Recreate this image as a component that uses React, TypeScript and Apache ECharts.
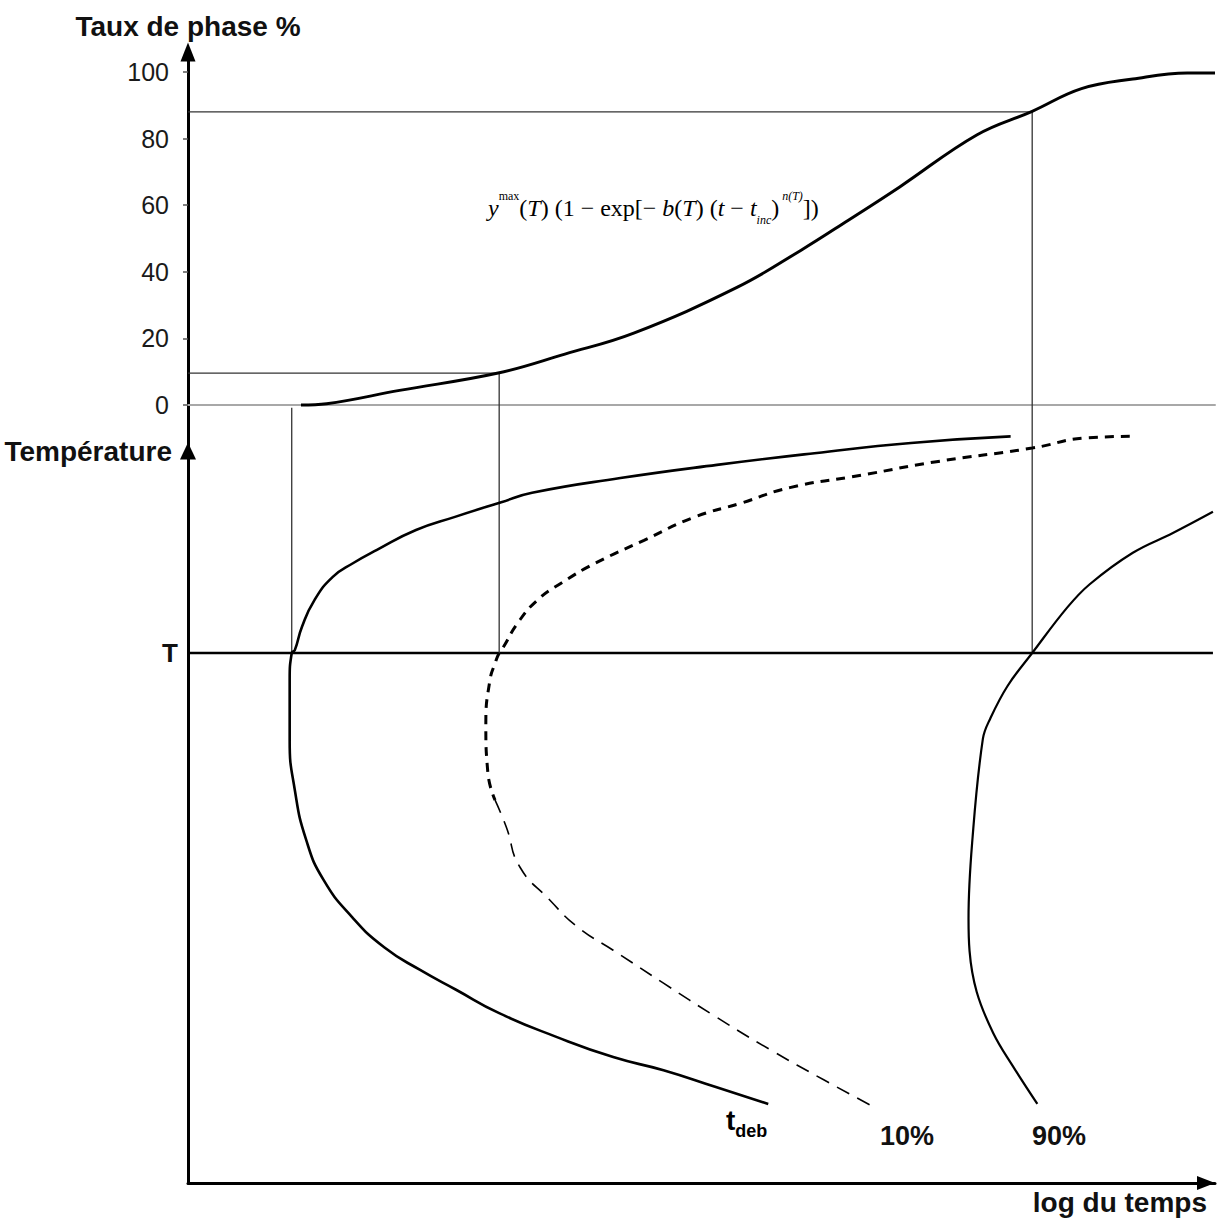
import React, { useEffect, useRef } from "react";
import * as echarts from "echarts";

// ---- axis ticks ----
const percentTicks = [0, 20, 40, 60, 80, 100];
const tempLevel = 72.4; // level "T" on the temperature axis
const tempTickLabel = "T";

// ---- top panel: transformed phase fraction (%) vs log time ----
const phaseX = [11.0, 13.5, 20.6, 30.2, 36.7, 43.4, 53.5, 59.7, 64.3, 69.3, 76.8, 82.2, 87.0, 92.0, 97.3, 100];
const phaseY = [0, 0.4, 4.4, 9.6, 15.3, 21.6, 35.4, 46.5, 55.5, 65.5, 81.1, 88.2, 95.0, 97.9, 99.7, 99.7];

// reading levels (10 % and 90 %) and the times where they are reached
const levelY = [9.6, 88];
const levelX = [30.3, 82.2];
// vertical guides: start time, 10 % time, 90 % time; and where they start (temperature-axis units)
const guideX = [10.1, 30.3, 82.2];
const guideTopTemp = [105.9, 110.7, 146.3];

// ---- bottom panel: TTT curves (log time, temperature) ----
const debX = [80.1, 70.4, 61.0, 51.5, 42.1, 33.5, 30.5, 26.0, 22.2, 18.4, 16.1, 14.1, 12.3, 11.1, 10.4, 10.1, 9.9, 9.9, 10.4, 11.5, 13.2, 16.0, 19.1, 22.6, 26.1, 30.3, 35.8, 41.4, 46.3, 51.4, 56.5];
const debY = [102.0, 101.1, 99.7, 98.1, 96.3, 94.3, 93.0, 91.0, 89.2, 86.5, 84.7, 82.8, 79.6, 76.0, 72.8, 72.4, 68.7, 60.5, 53.7, 46.9, 41.4, 36.3, 32.2, 29.1, 26.4, 23.2, 20.0, 17.2, 15.4, 13.1, 10.8];

const p10UpperX = [91.7, 87.5, 82.2, 72.7, 65.6, 58.6, 53.9, 49.2, 44.4, 39.7, 36.4, 34.0, 32.1, 30.7, 30.3, 29.9, 29.4, 29.0, 29.2, 29.9];
const p10UpperY = [102.0, 101.8, 100.4, 98.5, 96.7, 95.0, 92.9, 90.9, 87.8, 84.7, 82.0, 79.6, 76.5, 73.2, 72.4, 71.0, 68.7, 62.8, 56.0, 52.3];
const p10LowerX = [29.9, 31.0, 32.3, 35.2, 37.9, 41.4, 46.3, 51.4, 56.7, 61.9, 66.9];
const p10LowerY = [52.3, 48.6, 43.2, 38.7, 35.0, 31.8, 27.3, 22.7, 18.2, 14.1, 10.3];

const p90X = [99.8, 95.9, 92.0, 87.8, 85.6, 82.2, 79.8, 78.1, 77.4, 76.4, 76.0, 76.1, 76.8, 78.4, 80.3, 82.7];
const p90Y = [91.7, 88.8, 86.1, 81.8, 78.6, 72.4, 67.9, 63.4, 60.7, 47.3, 36.1, 31.7, 26.1, 20.5, 16.0, 10.8];

const zip = (xs: number[], ys: number[]) => xs.map((x, i) => [x, ys[i]]);

const SANS = "'Liberation Sans', Arial, sans-serif";
const SERIF = "'Liberation Serif', 'Times New Roman', serif";

export default function App() {
  const ref = useRef<HTMLDivElement>(null);

  useEffect(() => {
    if (!ref.current) return;
    const chart = echarts.init(ref.current, undefined, { renderer: "svg" });

    const guideStyle = { color: "#333", width: 1.3, type: "solid" as const };
    const lineBase = {
      type: "line" as const,
      showSymbol: false,
      symbol: "none",
      silent: true,
      clip: false,
    };

    const series: any[] = [
      {
        ...lineBase,
        name: "taux",
        xAxisIndex: 0,
        yAxisIndex: 0,
        smooth: 0.4,
        data: zip(phaseX, phaseY),
        lineStyle: { color: "#000", width: 3 },
        z: 5,
      },
      ...levelY.map((ly, i) => ({
        ...lineBase,
        xAxisIndex: 0,
        yAxisIndex: 0,
        data: [
          [0, ly],
          [levelX[i], ly],
        ],
        lineStyle: guideStyle,
      })),
      {
        ...lineBase,
        xAxisIndex: 1,
        yAxisIndex: 1,
        data: [
          [0, tempLevel],
          [99.8, tempLevel],
        ],
        lineStyle: { color: "#000", width: 2.5 },
      },
      ...guideX.map((gx, i) => ({
        ...lineBase,
        xAxisIndex: 1,
        yAxisIndex: 1,
        data: [
          [gx, guideTopTemp[i]],
          [gx, tempLevel],
        ],
        lineStyle: guideStyle,
      })),
      {
        ...lineBase,
        name: "tdeb",
        xAxisIndex: 1,
        yAxisIndex: 1,
        smooth: 0.5,
        data: zip(debX, debY),
        lineStyle: { color: "#000", width: 2.6 },
        z: 5,
      },
      {
        ...lineBase,
        name: "10% haut",
        xAxisIndex: 1,
        yAxisIndex: 1,
        smooth: 0.5,
        data: zip(p10UpperX, p10UpperY),
        lineStyle: { color: "#000", width: 3, type: [9, 7] },
        z: 5,
      },
      {
        ...lineBase,
        name: "10% bas",
        xAxisIndex: 1,
        yAxisIndex: 1,
        smooth: 0.5,
        data: zip(p10LowerX, p10LowerY),
        lineStyle: { color: "#000", width: 1.6, type: [14, 9] },
        z: 5,
      },
      {
        ...lineBase,
        name: "90%",
        xAxisIndex: 1,
        yAxisIndex: 1,
        smooth: 0.4,
        data: zip(p90X, p90Y),
        lineStyle: { color: "#000", width: 2.2 },
        z: 5,
      },
    ];

    chart.setOption({
      animation: false,
      backgroundColor: "#fff",
      grid: [
        { left: 188, top: 52, width: 1027, height: 399 },
        { left: 188, top: 451, width: 1027, height: 732 },
      ],
      xAxis: [
        {
          type: "value",
          gridIndex: 0,
          min: 0,
          max: 100,
          axisLine: { onZero: true, lineStyle: { color: "#a8a8a8", width: 2 } },
          axisTick: { show: false },
          axisLabel: { show: false },
          splitLine: { show: false },
        },
        {
          type: "value",
          gridIndex: 1,
          min: 0,
          max: 100,
          name: "log du temps",
          nameLocation: "end",
          nameGap: -8,
          nameTextStyle: {
            fontFamily: SANS,
            fontSize: 28,
            fontWeight: "bold",
            color: "#111",
            align: "right",
            verticalAlign: "top",
            padding: [5, 0, 0, 0],
          },
          axisLine: {
            onZero: false,
            symbol: ["none", "triangle"],
            symbolSize: [14, 18],
            symbolOffset: [0, -9],
            lineStyle: { color: "#000", width: 3 },
          },
          axisTick: { show: false },
          axisLabel: { show: false },
          splitLine: { show: false },
        },
      ],
      yAxis: [
        {
          type: "value",
          gridIndex: 0,
          min: -13.8,
          max: 106,
          name: "Taux de phase %",
          nameLocation: "end",
          nameGap: 12,
          nameTextStyle: {
            fontFamily: SANS,
            fontSize: 28,
            fontWeight: "bold",
            color: "#111",
          },
          axisLine: {
            onZero: false,
            symbol: ["none", "triangle"],
            symbolSize: [15, 19],
            lineStyle: { color: "#000", width: 3 },
          },
          axisTick: {
            show: true,
            length: 5,
            customValues: percentTicks,
            lineStyle: { color: "#555", width: 1.5 },
          },
          axisLabel: {
            show: true,
            customValues: percentTicks,
            margin: 19,
            fontFamily: SANS,
            fontSize: 25,
            color: "#1a1a1a",
          },
          splitLine: { show: false },
        },
        {
          type: "value",
          gridIndex: 1,
          min: 0,
          max: 100,
          name: "Température",
          nameLocation: "end",
          nameGap: 0,
          nameTextStyle: {
            fontFamily: SANS,
            fontSize: 28,
            fontWeight: "bold",
            color: "#111",
            align: "right",
            verticalAlign: "middle",
            padding: [4, 16, 0, 0],
          },
          axisLine: {
            onZero: false,
            symbol: ["none", "triangle"],
            symbolSize: [16, 17],
            lineStyle: { color: "#000", width: 3 },
          },
          axisTick: { show: false },
          axisLabel: {
            show: true,
            customValues: [tempLevel],
            formatter: () => tempTickLabel,
            margin: 10,
            fontFamily: SANS,
            fontSize: 26,
            fontWeight: "bold",
            color: "#111",
          },
          splitLine: { show: false },
        },
      ],
      graphic: [
        {
          type: "text",
          left: 488,
          top: 190,
          style: {
            text:
              "{i|y}{sup|max}{n|(}{i|T}{n|) (1 − exp[− }{i|b}{n|(}{i|T}{n|) (}{i|t}{n| − }{i|t}{sub|inc}{n|)}{supi| n(T)}{n|])}",
            rich: {
              n: { fontFamily: SERIF, fontSize: 24, color: "#222", lineHeight: 36, verticalAlign: "middle" },
              i: { fontFamily: SERIF, fontSize: 24, fontStyle: "italic", color: "#222", lineHeight: 36, verticalAlign: "middle" },
              sup: { fontFamily: SERIF, fontSize: 12, color: "#222", verticalAlign: "top", lineHeight: 36 },
              supi: { fontFamily: SERIF, fontSize: 12, fontStyle: "italic", color: "#222", verticalAlign: "top", lineHeight: 36 },
              sub: { fontFamily: SERIF, fontSize: 12, fontStyle: "italic", color: "#222", verticalAlign: "bottom", lineHeight: 36 },
            },
          },
        },
        {
          type: "text",
          left: 726,
          top: 1106,
          style: {
            text: "{t|t}{s|deb}",
            rich: {
              t: { fontFamily: SANS, fontSize: 28, fontWeight: "bold", color: "#111", lineHeight: 34, verticalAlign: "top" },
              s: { fontFamily: SANS, fontSize: 18, fontWeight: "bold", color: "#111", lineHeight: 34, verticalAlign: "bottom" },
            },
          },
        },
        {
          type: "text",
          left: 880,
          top: 1122,
          style: { text: "10%", fontFamily: SANS, fontSize: 27, fontWeight: "bold", fill: "#111" },
        },
        {
          type: "text",
          left: 1032,
          top: 1122,
          style: { text: "90%", fontFamily: SANS, fontSize: 27, fontWeight: "bold", fill: "#111" },
        },
      ],
      series,
    });

    return () => chart.dispose();
  }, []);

  return (
    <div
      ref={ref}
      style={{ position: "absolute", left: 0, top: 0, width: 1218, height: 1219, background: "#fff" }}
    />
  );
}
